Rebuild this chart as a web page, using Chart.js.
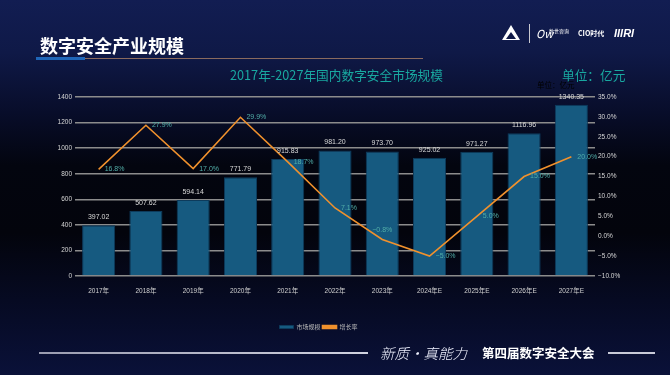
<!DOCTYPE html>
<html><head><meta charset="utf-8">
<script src="https://cdn.jsdelivr.net/npm/chart.js@4.4.0/dist/chart.umd.min.js"></script>
<style>
html,body{margin:0;padding:0;width:670px;height:375px;overflow:hidden;}
body{position:relative;background:linear-gradient(to bottom,#121d52 0%,#0f1947 14%,#080d2a 30%,#03050f 44%,#03040c 62%,#060a22 80%,#0a1139 100%);font-family:"Noto Sans CJK SC","Liberation Sans",sans-serif;}
#c{position:absolute;left:0;top:0;}
.abs{position:absolute;white-space:nowrap;}
</style></head><body>
<canvas id="c" width="670" height="375"></canvas>
<div class="abs" style="left:40px;top:34px;font-size:18px;font-weight:bold;line-height:22px;color:#fff;">数字安全产业规模</div>
<div class="abs" style="left:36px;top:57px;width:49px;height:3px;background:#1f66b8;"></div>
<div class="abs" style="left:85px;top:58px;width:338px;height:1px;background:#8a6a5e;"></div>
<div class="abs" style="left:502px;top:25px;width:0;height:0;border-left:9px solid transparent;border-right:9px solid transparent;border-bottom:15px solid #fff;"></div>
<div class="abs" style="left:506px;top:32px;width:0;height:0;border-left:5px solid transparent;border-right:5px solid transparent;border-bottom:7px solid #0f1947;"></div>
<div class="abs" style="left:529px;top:24px;width:1px;height:19px;background:#c8c8d0;"></div>
<div class="abs" style="left:536px;top:26px;font-size:11px;font-style:italic;line-height:14px;color:#fff;">Ow</div>
<div class="abs" style="left:549px;top:28px;font-size:5px;line-height:6px;color:#fff;">数世咨询</div>
<div class="abs" style="left:578px;top:29px;font-size:7px;line-height:9px;color:#fff;font-weight:bold;">CIO时代</div>
<div class="abs" style="left:614px;top:26px;font-size:11px;font-style:italic;font-weight:bold;line-height:14px;color:#fff;font-family:'Liberation Sans',sans-serif;">IIIRI</div>
<div class="abs" style="left:230px;top:67px;font-size:12.7px;line-height:16px;color:#19a8a0;">2017年-2027年国内数字安全市场规模</div>
<div class="abs" style="left:562px;top:67px;font-size:12.7px;line-height:16px;color:#19a8a0;">单位：亿元</div>
<div class="abs" style="left:537px;top:80px;font-size:7.5px;line-height:10px;color:#000;">单位：亿元</div>
<div class="abs" style="left:39px;top:352px;width:329px;height:1.5px;background:linear-gradient(to right,#9a9cb0,#d0d2e0);"></div>
<div class="abs" style="left:608px;top:352px;width:47px;height:1.5px;background:#c8cad8;"></div>
<div class="abs" style="left:380px;top:344px;font-size:14.5px;font-style:italic;font-weight:300;line-height:18px;color:#f0f2ff;">新质·真能力</div>
<div class="abs" style="left:482px;top:345px;font-size:12.5px;font-weight:bold;line-height:16px;color:#fff;">第四届数字安全大会</div>
<script>
const categories = ['2017年','2018年','2019年','2020年','2021年','2022年','2023年','2024年E','2025年E','2026年E','2027年E'];
const marketSize = [397.02, 507.62, 594.14, 771.79, 915.83, 981.20, 973.70, 925.02, 971.27, 1116.96, 1340.35];
const growthRate = [16.8, 27.9, 17.0, 29.9, 18.7, 7.1, -0.8, -5.0, 5.0, 15.0, 20.0];
const seriesNames = ['市场规模', '增长率'];

const fmtPct = v => (v < 0 ? '\u2212' + Math.abs(v).toFixed(1) : v.toFixed(1)) + '%';
const FONT = '"Liberation Sans", Arial, "Noto Sans CJK SC", sans-serif';

const valueLabels = {
  id: 'valueLabels',
  afterDatasetsDraw(chart) {
    const ctx = chart.ctx;
    ctx.save();
    ctx.font = '7px ' + FONT;
    ctx.textBaseline = 'middle';
    ctx.textAlign = 'center';
    ctx.fillStyle = '#d9d9d9';
    chart.getDatasetMeta(0).data.forEach((el, i) => {
      ctx.fillText(marketSize[i].toFixed(2), el.x, el.y - 8);
    });
    ctx.fillStyle = '#52aea8';
    chart.getDatasetMeta(1).data.forEach((el, i) => {
      const t = fmtPct(growthRate[i]);
      if (i === 6) {
        ctx.textAlign = 'center';
        ctx.fillText(t, el.x, el.y - 9);
      } else {
        ctx.textAlign = 'left';
        ctx.fillText(t, el.x + 6, el.y);
      }
    });
    ctx.restore();
  }
};

new Chart(document.getElementById('c'), {
  type: 'bar',
  data: {
    labels: categories,
    datasets: [
      {
        label: seriesNames[0], data: marketSize, yAxisID: 'y', order: 1,
        backgroundColor: '#165a80', borderColor: '#0d3b5c', borderWidth: 1,
        barPercentage: 0.7, categoryPercentage: 1
      },
      {
        type: 'line', label: seriesNames[1], data: growthRate, yAxisID: 'y1', order: 0,
        borderColor: '#f0912d', backgroundColor: '#f0912d', borderWidth: 1.6,
        pointRadius: 0, tension: 0, fill: false
      }
    ]
  },
  options: {
    responsive: false, animation: false, devicePixelRatio: 1,
    layout: { padding: { top: 97, left: 0, right: 33, bottom: 35 } },
    plugins: {
      tooltip: { enabled: false },
      legend: {
        position: 'bottom',
        labels: {
          boxWidth: 14, boxHeight: 3, padding: 2, color: '#b8b8b8',
          font: { size: 6, family: '"Noto Sans CJK SC", sans-serif' },
          sort: (a, b) => a.datasetIndex - b.datasetIndex
        }
      }
    },
    scales: {
      x: {
        grid: { display: false }, border: { display: false },
        ticks: { color: '#d0d0d0', font: { size: 6.5, family: FONT }, padding: 3, maxRotation: 0, autoSkip: false },
        afterFit(s) { s.height = 46; }
      },
      y: {
        position: 'left', min: 0, max: 1400,
        grid: { color: '#8c8c8c', lineWidth: 1.5, drawTicks: false },
        border: { display: false },
        ticks: { stepSize: 200, color: '#d6d6d6', font: { size: 6.5, family: FONT }, padding: 3, callback: v => String(v) },
        afterFit(s) { s.width = 75; }
      },
      y1: {
        position: 'right', min: -10, max: 35,
        grid: { display: false, drawTicks: false }, border: { display: false },
        ticks: { stepSize: 5, color: '#d6d6d6', font: { size: 6.5, family: FONT }, padding: 3, callback: v => fmtPct(v) },
        afterFit(s) { s.width = 42; }
      }
    }
  },
  plugins: [valueLabels]
});
</script>
</body></html>
